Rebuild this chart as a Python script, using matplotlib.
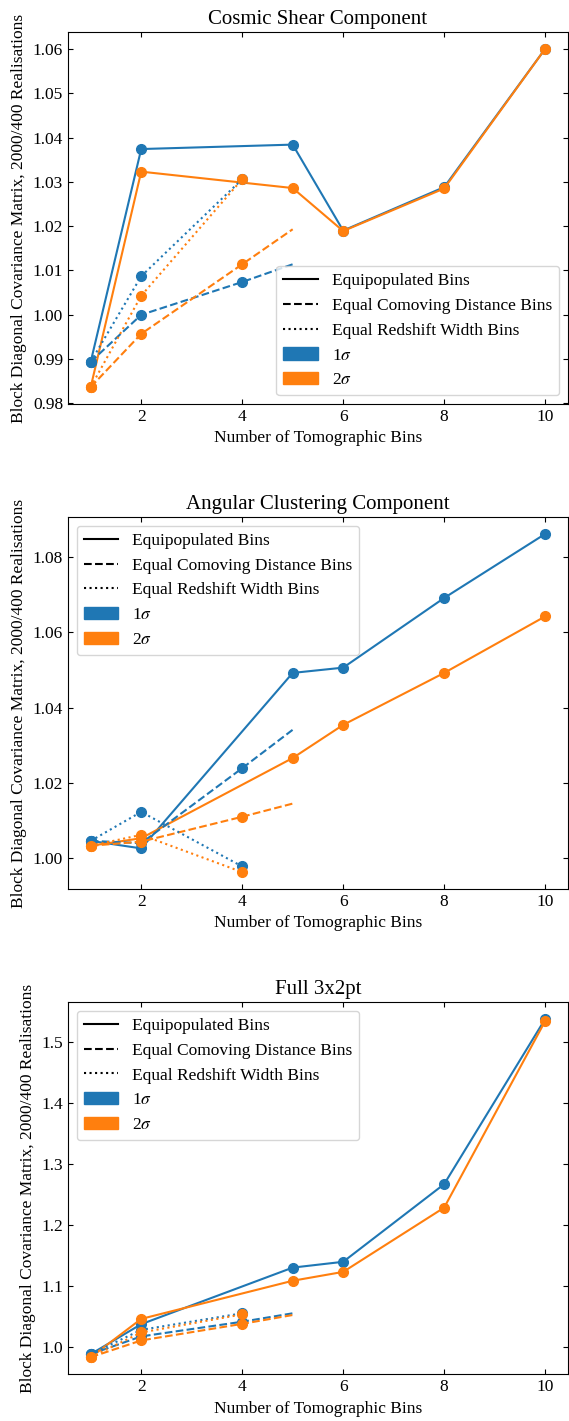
import matplotlib
matplotlib.use("Agg")
import matplotlib.pyplot as plt
from matplotlib.lines import Line2D
from matplotlib.patches import Patch

plt.rcParams['font.family'] = ['Liberation Serif', 'DejaVu Serif']
plt.rcParams['mathtext.fontset'] = 'stix'
plt.rcParams['xtick.direction'] = 'in'
plt.rcParams['ytick.direction'] = 'in'
plt.rcParams['xtick.top'] = True
plt.rcParams['ytick.right'] = True

# number of tomographic bins for each binning scheme
n_equipop = [1, 2, 5, 6, 8, 10]
n_comoving = [1, 2, 4, 5]
n_redshift = [1, 2, 4]

titles = ['Cosmic Shear Component', 'Angular Clustering Component', 'Full 3x2pt']

# cosmic shear
shear_equipop_1s = [0.9894, 1.0374, 1.0384, 1.0190, 1.0288, 1.0600]
shear_equipop_2s = [0.9837, 1.0323, 1.0286, 1.0189, 1.0285, 1.0600]
shear_comoving_1s = [0.9894, 1.0000, 1.0074, 1.0114]
shear_comoving_2s = [0.9837, 0.9957, 1.0114, 1.0193]
shear_redshift_1s = [0.9894, 1.0087, 1.0306]
shear_redshift_2s = [0.9837, 1.0043, 1.0306]

# angular clustering
clust_equipop_1s = [1.0046, 1.0026, 1.0492, 1.0506, 1.0691, 1.0861]
clust_equipop_2s = [1.0033, 1.0053, 1.0266, 1.0354, 1.0492, 1.0642]
clust_comoving_1s = [1.0046, 1.0040, 1.0239, 1.0341]
clust_comoving_2s = [1.0033, 1.0044, 1.0110, 1.0145]
clust_redshift_1s = [1.0046, 1.0123, 0.9978]
clust_redshift_2s = [1.0033, 1.0062, 0.9963]

# full 3x2pt
full_equipop_1s = [0.989, 1.038, 1.1305, 1.140, 1.267, 1.537]
full_equipop_2s = [0.984, 1.0466, 1.109, 1.1235, 1.2286, 1.5336]
full_comoving_1s = [0.989, 1.018, 1.042, 1.0558]
full_comoving_2s = [0.984, 1.0114, 1.0385, 1.053]
full_redshift_1s = [0.989, 1.0287, 1.0558]
full_redshift_2s = [0.984, 1.0244, 1.054]

panels = [
    (shear_equipop_1s, shear_equipop_2s, shear_comoving_1s, shear_comoving_2s, shear_redshift_1s, shear_redshift_2s),
    (clust_equipop_1s, clust_equipop_2s, clust_comoving_1s, clust_comoving_2s, clust_redshift_1s, clust_redshift_2s),
    (full_equipop_1s, full_equipop_2s, full_comoving_1s, full_comoving_2s, full_redshift_1s, full_redshift_2s),
]
legend_locs = ['lower right', 'upper left', 'upper left']

c1 = '#1f77b4'
c2 = '#ff7f0e'
fs = 12.5

fig, axes = plt.subplots(3, 1, figsize=(5.69, 14.21), dpi=100)
fig.subplots_adjust(left=0.1195, right=0.998, bottom=0.033, top=0.9775, hspace=0.304)

for ax, title, data, loc in zip(axes, titles, panels, legend_locs):
    eq1, eq2, cm1, cm2, rz1, rz2 = data
    ax.plot(n_equipop, eq1, '-', color=c1, marker='o', ms=7)
    ax.plot(n_equipop, eq2, '-', color=c2, marker='o', ms=7)
    ax.plot(n_comoving, cm1, '--', color=c1, marker='o', ms=7, markevery=[0, 1, 2])
    ax.plot(n_comoving, cm2, '--', color=c2, marker='o', ms=7, markevery=[0, 1, 2])
    ax.plot(n_redshift, rz1, ':', color=c1, marker='o', ms=7)
    ax.plot(n_redshift, rz2, ':', color=c2, marker='o', ms=7)

    ax.set_title(title, fontsize=15)
    ax.set_xlabel('Number of Tomographic Bins', fontsize=fs)
    ax.set_ylabel('Block Diagonal Covariance Matrix, 2000/400 Realisations', fontsize=fs)
    ax.set_xticks([2, 4, 6, 8, 10])
    ax.tick_params(labelsize=fs)

    handles = [
        Line2D([], [], color='k', ls='-'),
        Line2D([], [], color='k', ls='--'),
        Line2D([], [], color='k', ls=':'),
        Patch(color=c1),
        Patch(color=c2),
    ]
    labels = ['Equipopulated Bins', 'Equal Comoving Distance Bins',
              'Equal Redshift Width Bins', r'1$\sigma$', r'2$\sigma$']
    ax.legend(handles, labels, loc=loc, fontsize=fs)

fig.savefig('out.png', dpi=100)
